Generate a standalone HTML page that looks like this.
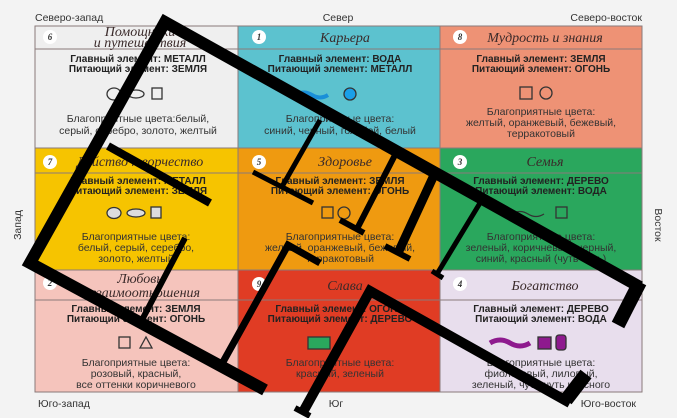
<!DOCTYPE html>
<html><head><meta charset="utf-8"><style>
html,body{margin:0;padding:0;background:#f3f3f3;}
svg{display:block}
.h{font-family:"Liberation Serif",serif;font-style:italic;font-size:14px;fill:#3a2a2a}
.b{font-family:"Liberation Sans",sans-serif;font-weight:bold;font-size:10px;fill:#222}
.n{font-family:"Liberation Sans",sans-serif;font-size:10.5px;fill:#333}
.d{font-family:"Liberation Sans",sans-serif;font-size:10.5px;fill:#333}
.num{font-family:"Liberation Serif",serif;font-style:italic;font-weight:bold;font-size:9px;fill:#333}
</style></head><body>
<svg width="677" height="418" viewBox="0 0 677 418" xmlns="http://www.w3.org/2000/svg">
<rect width="677" height="418" fill="#f3f3f3"/>
<!-- direction labels -->
<text class="d" x="35" y="21">Северо-запад</text>
<text class="d" x="338" y="21" text-anchor="middle">Север</text>
<text class="d" x="642" y="21" text-anchor="end">Северо-восток</text>
<text class="d" x="38" y="407">Юго-запад</text>
<text class="d" x="336" y="407" text-anchor="middle">Юг</text>
<text class="d" x="636" y="407" text-anchor="end">Юго-восток</text>
<text class="d" transform="translate(21,225) rotate(-90)" text-anchor="middle">Запад</text>
<text class="d" transform="translate(655,225) rotate(90)" text-anchor="middle">Восток</text>

<!-- cells -->
<g stroke="#8a7a7a" stroke-width="1">
<rect x="35" y="26" width="203" height="122" fill="#efefef"/>
<rect x="238" y="26" width="202" height="122" fill="#5cc2cf"/>
<rect x="440" y="26" width="202" height="122" fill="#ee9275"/>
<rect x="35" y="148" width="203" height="122" fill="#f6c400"/>
<rect x="238" y="148" width="202" height="122" fill="#ef9a10"/>
<rect x="440" y="148" width="202" height="122" fill="#2aa75d"/>
<rect x="35" y="270" width="203" height="122" fill="#f5c4bc"/>
<rect x="238" y="270" width="202" height="122" fill="#e03c24"/>
<rect x="440" y="270" width="202" height="122" fill="#e8deed"/>
<line x1="35" y1="49" x2="642" y2="49"/>
<line x1="35" y1="173" x2="642" y2="173"/>
<line x1="35" y1="300" x2="642" y2="300"/>
</g>
<g fill="#fff"><circle cx="50" cy="37" r="7"/><circle cx="259" cy="37" r="7"/><circle cx="460" cy="37" r="7"/>
<circle cx="50" cy="162" r="7"/><circle cx="259" cy="162" r="7"/><circle cx="460" cy="162" r="7"/>
<circle cx="50" cy="283" r="7"/><circle cx="259" cy="284" r="7"/><circle cx="460" cy="284" r="7"/></g>
<g class="num" text-anchor="middle"><text x="50" y="40">6</text><text x="259" y="40">1</text><text x="460" y="40">8</text>
<text x="50" y="165">7</text><text x="259" y="165">5</text><text x="460" y="165">3</text>
<text x="50" y="286">2</text><text x="259" y="287">9</text><text x="460" y="287">4</text></g>

<g class="h" text-anchor="middle">
<text x="140" y="36">Помощники</text><text x="140" y="47">и путешествия</text>
<text x="345" y="42">Карьера</text>
<text x="545" y="42">Мудрость и знания</text>
<text x="140" y="166">Действо творчество</text>
<text x="345" y="166">Здоровье</text>
<text x="545" y="166">Семья</text>
<text x="140" y="283">Любовь</text><text x="140" y="297">и взаимоотношения</text>
<text x="345" y="290">Слава</text>
<text x="545" y="290">Богатство</text>
</g>
<g class="b" text-anchor="middle">
<text x="138" y="62">Главный элемент: МЕТАЛЛ</text><text x="138" y="72">Питающий элемент: ЗЕМЛЯ</text>
<text x="340" y="62">Главный элемент: ВОДА</text><text x="340" y="72">Питающий элемент: МЕТАЛЛ</text>
<text x="541" y="62">Главный элемент: ЗЕМЛЯ</text><text x="541" y="72">Питающий элемент: ОГОНЬ</text>
<text x="138" y="184">Главный элемент: МЕТАЛЛ</text><text x="138" y="194">Питающий элемент: ЗЕМЛЯ</text>
<text x="340" y="184">Главный элемент: ЗЕМЛЯ</text><text x="340" y="194">Питающий элемент: ОГОНЬ</text>
<text x="541" y="184">Главный элемент: ДЕРЕВО</text><text x="541" y="194">Питающий элемент: ВОДА</text>
<text x="136" y="312">Главный элемент: ЗЕМЛЯ</text><text x="136" y="322">Питающий элемент: ОГОНЬ</text>
<text x="340" y="312">Главный элемент: ОГОНЬ</text><text x="340" y="322">Питающий элемент: ДЕРЕВО</text>
<text x="541" y="312">Главный элемент: ДЕРЕВО</text><text x="541" y="322">Питающий элемент: ВОДА</text>
</g>
<g class="n" text-anchor="middle">
<text x="138" y="122">Благоприятные цвета:белый,</text><text x="138" y="134">серый, серебро, золото, желтый</text>
<text x="340" y="122">Благоприятные цвета:</text><text x="340" y="134">синий, черный, голубой, белый</text>
<text x="541" y="115">Благоприятные цвета:</text><text x="541" y="126">желтый, оранжевый, бежевый,</text><text x="541" y="137">терракотовый</text>
<text x="136" y="240">Благоприятные цвета:</text><text x="136" y="251">белый, серый, серебро,</text><text x="136" y="262">золото, желтый</text>
<text x="340" y="240">Благоприятные цвета:</text><text x="340" y="251">желтый, оранжевый, бежевый,</text><text x="340" y="262">терракотовый</text>
<text x="541" y="240">Благоприятные цвета:</text><text x="541" y="251">зеленый, коричневый, черный,</text><text x="541" y="262">синий, красный (чуть-чуть)</text>
<text x="136" y="366">Благоприятные цвета:</text><text x="136" y="377">розовый, красный,</text><text x="136" y="388">все оттенки коричневого</text>
<text x="340" y="366">Благоприятные цвета:</text><text x="340" y="377">красный, зеленый</text>
<text x="541" y="366">Благоприятные цвета:</text><text x="541" y="377">фиолетовый, лиловый,</text><text x="541" y="388">зеленый, чуть-чуть красного</text>
</g>
<!-- icons -->
<g stroke="#333" stroke-width="1.3" fill="none">
<ellipse cx="114" cy="94" rx="7" ry="6"/><ellipse cx="136" cy="94" rx="8" ry="4"/><rect x="152" y="88" width="10" height="11"/>
<path d="M296 95 q8 -5 16 0 q8 5 16 0" stroke="#1a8fd8" stroke-width="4"/><circle cx="350" cy="94" r="6" fill="#1a9fe8"/>
<rect x="520" y="87" width="12" height="12"/><circle cx="546" cy="93" r="6"/>
<ellipse cx="114" cy="213" rx="7" ry="5.5" fill="#ddd"/><ellipse cx="136" cy="213" rx="9" ry="4" fill="#ddd"/><rect x="151" y="207" width="10" height="11" fill="#ddd"/>
<rect x="322" y="207" width="11" height="11"/><circle cx="344" cy="213" r="6"/>
<path d="M512 214 q8 -5 16 0 q8 5 16 0"/><rect x="556" y="207" width="11" height="11"/>
<rect x="119" y="337" width="11" height="11"/><path d="M140 348 l6 -11 l6 11 z"/>
<rect x="308" y="337" width="22" height="12" fill="#2aa75d"/>
<path d="M490 343 q10 -6 20 0 q10 6 20 0" stroke="#8e1a8e" stroke-width="5"/><rect x="538" y="337" width="13" height="12" fill="#8e1a8e"/><rect x="556" y="335" width="10" height="15" rx="3" fill="#8e1a8e"/>
</g>
<!-- floor plan overlay -->
<g stroke="#000" stroke-linecap="butt" fill="none">
<polyline points="640,287 165,22 30,263 265,390" stroke-width="12" stroke-linejoin="miter"/>
<line x1="108" y1="146" x2="210" y2="203" stroke-width="8"/>
<line x1="640" y1="282" x2="618" y2="325" stroke-width="14"/>
<line x1="320" y1="120" x2="283" y2="185" stroke-width="5"/>
<line x1="253" y1="172" x2="313" y2="203" stroke-width="5"/>
<line x1="395" y1="155" x2="358" y2="227" stroke-width="6"/>
<line x1="340" y1="220" x2="364" y2="233" stroke-width="6"/>
<line x1="435" y1="173" x2="398" y2="253" stroke-width="9"/>
<line x1="385" y1="246" x2="410" y2="259" stroke-width="6"/>
<line x1="480" y1="203" x2="437" y2="274" stroke-width="5"/>
<line x1="432" y1="271" x2="443" y2="278" stroke-width="5"/>
<line x1="185" y1="238" x2="143" y2="318" stroke-width="6"/>
<polyline points="320,263 288,245 223,362" stroke-width="7"/>
<polyline points="570,403 370,291 303,412" stroke-width="10"/>
<line x1="295" y1="408" x2="310" y2="416" stroke-width="6"/>
<line x1="566" y1="400" x2="586" y2="374" stroke-width="14"/>
</g>
</svg>
</body></html>
